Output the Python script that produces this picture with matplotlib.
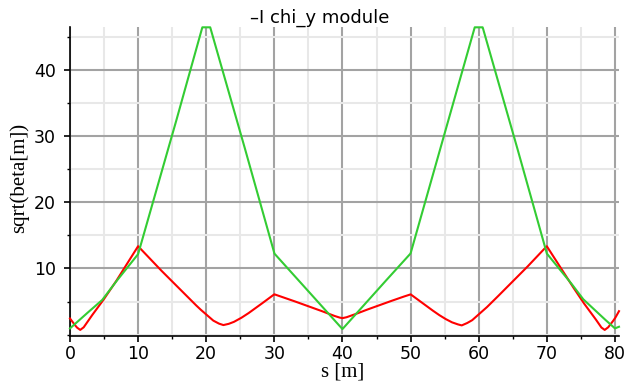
import numpy as np
import matplotlib
matplotlib.use("Agg")
import matplotlib.pyplot as plt
from matplotlib.ticker import MultipleLocator

# sqrt(beta) along the module, read at the lattice points
s_x = [0, 0.5, 1.0, 1.5, 2.0, 3.0, 4.7, 6.6, 10.0, 13.0, 16.2, 18.0, 19.0, 20.0,
       21.0, 21.8, 22.5, 23.2, 24.0, 25.0, 26.0, 27.5, 30.0, 32.0, 35.0, 37.0,
       38.5, 39.5, 40.0, 40.5, 41.5, 43.0, 45.0, 48.0, 50.0, 52.5, 54.0, 55.0,
       56.0, 56.8, 57.5, 58.2, 59.0, 60.0, 61.0, 62.0, 63.8, 67.0, 70.0, 73.4,
       75.3, 77.0, 78.0, 78.5, 79.0, 79.5, 80.0, 80.6]
sqrt_beta_x = [2.45, 1.75, 1.1, 0.72, 1.1, 2.6, 4.95, 7.8, 13.36, 10.1, 6.8, 4.95,
               3.95, 3.05, 2.15, 1.7, 1.45, 1.6, 1.9, 2.45, 3.1, 4.2, 6.1, 5.4,
               4.3, 3.55, 2.95, 2.6, 2.5, 2.6, 2.95, 3.55, 4.3, 5.4, 6.1, 4.2,
               3.1, 2.45, 1.9, 1.6, 1.4, 1.7, 2.15, 3.05, 3.95, 4.95, 6.8, 10.1,
               13.36, 7.9, 4.95, 2.6, 1.1, 0.72, 1.1, 1.75, 2.45, 3.55]

s_y = [0, 2.0, 4.7, 6.6, 10.0, 15.0, 20.0, 25.0, 30.0, 35.0, 40.0, 45.0, 50.0,
       55.0, 60.0, 65.0, 70.0, 73.4, 75.3, 78.0, 80.0, 80.6]
sqrt_beta_y = [0.95, 2.8, 5.2, 7.8, 12.16, 30.1, 48.5, 30.6, 12.26, 6.55, 0.85,
               6.6, 12.26, 30.4, 48.5, 30.6, 12.26, 8.0, 5.4, 2.8, 0.95, 1.2]

xmax = 80.6
ymin, ymax = -0.15, 46.4

fig = plt.figure(figsize=(6.26, 3.88), dpi=100)
ax = fig.add_axes([0.1118, 0.1348, 0.877, 0.7948])

# curves are flattened at the top of the frame instead of leaving it
ss = np.linspace(0, xmax, 3000)
bx = np.minimum(np.interp(ss, s_x, sqrt_beta_x), ymax)
by = np.minimum(np.interp(ss, s_y, sqrt_beta_y), ymax)
ax.plot(ss, bx, color="#ff0000", lw=1.5, zorder=3, clip_on=False)
ax.plot(ss, by, color="#33cc33", lw=1.5, zorder=3, clip_on=False)

ax.set_xlim(0, xmax)
ax.set_ylim(ymin, ymax)
ax.set_xticks(range(0, 81, 10))
ax.set_yticks([10, 20, 30, 40])
ax.xaxis.set_minor_locator(MultipleLocator(5))
ax.yaxis.set_minor_locator(MultipleLocator(5))

ax.set_axisbelow(True)
ax.grid(which="major", color="#a3a3a3", lw=1.5)
ax.grid(which="minor", color="#e8e8e8", lw=1.5)

for side in ["top", "right"]:
    ax.spines[side].set_visible(False)
for side in ["left", "bottom"]:
    ax.spines[side].set_linewidth(1.2)

ax.tick_params(which="major", direction="out", length=4, width=1.2, labelsize=12.5)
ax.tick_params(which="minor", direction="out", length=2.5, width=1.0)
ax.tick_params(axis="x", pad=3)
ax.tick_params(axis="y", pad=6)

fig.text(0.51, 0.941, "\u2013I chi_y module", ha="center", va="baseline",
         fontsize=13, family="DejaVu Sans")
fig.text(0.548, 0.041, "s [m]", ha="center", va="center", fontsize=15,
         family="Liberation Serif")
fig.text(0.030, 0.541, "sqrt(beta[m])", ha="center", va="center", rotation=90,
         fontsize=15, family="Liberation Serif")

fig.savefig("out.png", dpi=100)
